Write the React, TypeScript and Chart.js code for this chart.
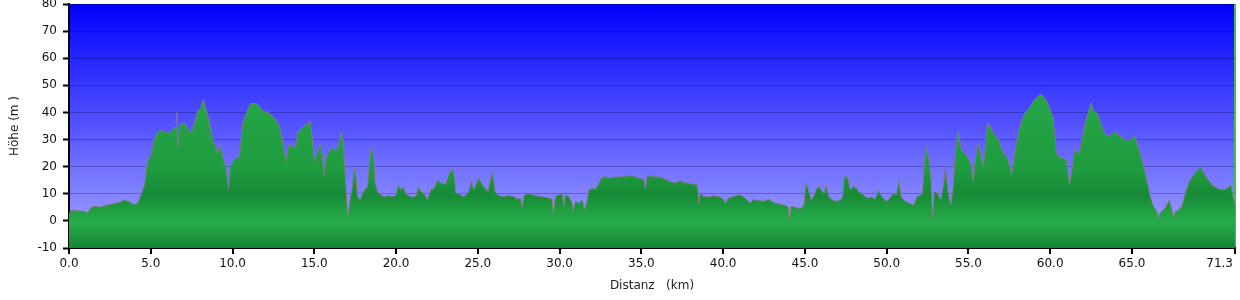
import React, { useEffect, useRef } from 'react';
import { Chart, registerables } from 'chart.js';

Chart.register(...registerables);

// Distance along the route (km)
const distanceKm = [
  0.0, 0.06, 0.22, 0.43, 0.84, 1.14, 1.35, 1.65, 1.86, 2.26, 2.67, 3.08, 3.38, 3.69, 4.0, 4.2, 4.4, 4.6, 4.81,
  5.02, 5.22, 5.42, 5.63, 5.93, 6.24, 6.44, 6.56, 6.6, 6.66, 6.75, 6.85, 7.05, 7.26, 7.46, 7.67, 7.87, 8.07, 8.22,
  8.38, 8.58, 8.79, 9.09, 9.24, 9.4, 9.6, 9.75, 9.85, 10.1, 10.42, 10.62, 10.93, 11.13, 11.44, 11.74, 11.93,
  12.13, 12.34, 12.64, 12.85, 13.05, 13.26, 13.46, 13.66, 13.87, 13.97, 14.17, 14.38, 14.58, 14.74, 14.89, 14.99,
  15.19, 15.36, 15.5, 15.6, 15.7, 15.91, 16.11, 16.31, 16.46, 16.62, 16.76, 16.86, 16.99, 17.03, 17.19, 17.33,
  17.43, 17.54, 17.64, 17.8, 18.0, 18.25, 18.41, 18.49, 18.62, 18.72, 18.86, 19.07, 19.27, 19.47, 19.78, 19.98,
  20.15, 20.29, 20.45, 20.59, 20.9, 21.21, 21.35, 21.51, 21.72, 21.92, 22.12, 22.33, 22.53, 22.74, 23.04, 23.25,
  23.45, 23.55, 23.65, 23.86, 24.04, 24.24, 24.45, 24.59, 24.75, 24.9, 25.06, 25.22, 25.43, 25.63, 25.77, 25.87,
  25.98, 26.04, 26.28, 26.59, 26.89, 27.2, 27.4, 27.61, 27.71, 27.81, 28.02, 28.32, 28.53, 28.73, 29.03, 29.34,
  29.54, 29.61, 29.75, 29.95, 30.16, 30.26, 30.36, 30.56, 30.77, 30.83, 30.97, 31.18, 31.38, 31.54, 31.69, 31.79,
  31.99, 32.2, 32.4, 32.6, 32.91, 33.11, 33.32, 33.62, 33.93, 34.23, 34.54, 34.85, 35.15, 35.25, 35.36, 35.66,
  35.97, 36.15, 36.46, 36.76, 37.07, 37.37, 37.68, 37.98, 38.29, 38.43, 38.51, 38.6, 38.8, 39.11, 39.41, 39.72,
  40.02, 40.13, 40.33, 40.64, 40.94, 41.15, 41.45, 41.65, 41.86, 42.16, 42.47, 42.78, 43.08, 43.39, 43.69, 43.9,
  44.0, 44.06, 44.14, 44.3, 44.51, 44.81, 44.96, 45.06, 45.22, 45.37, 45.53, 45.73, 45.9, 46.04, 46.18, 46.3,
  46.45, 46.65, 46.96, 47.16, 47.32, 47.4, 47.61, 47.77, 47.97, 48.18, 48.26, 48.46, 48.67, 48.87, 49.08, 49.28,
  49.52, 49.69, 49.99, 50.2, 50.4, 50.6, 50.75, 50.87, 51.11, 51.42, 51.68, 51.83, 52.03, 52.19, 52.34, 52.44,
  52.58, 52.7, 52.81, 52.91, 53.11, 53.32, 53.46, 53.6, 53.76, 53.93, 54.07, 54.21, 54.38, 54.58, 54.78, 55.03,
  55.19, 55.29, 55.4, 55.56, 55.7, 55.91, 56.05, 56.17, 56.31, 56.52, 56.82, 57.07, 57.23, 57.43, 57.64, 57.84,
  58.05, 58.25, 58.45, 58.66, 58.86, 59.07, 59.37, 59.58, 59.75, 59.9, 60.05, 60.16, 60.25, 60.37, 60.51, 60.72,
  60.98, 61.12, 61.18, 61.33, 61.43, 61.53, 61.63, 61.8, 61.94, 62.14, 62.35, 62.49, 62.65, 62.86, 63.06, 63.26,
  63.47, 63.77, 63.98, 64.28, 64.59, 64.79, 65.0, 65.2, 65.3, 65.51, 65.71, 65.91, 66.12, 66.32, 66.53, 66.62,
  66.73, 66.93, 67.14, 67.28, 67.44, 67.55, 67.65, 67.85, 68.05, 68.26, 68.46, 68.67, 68.97, 69.18, 69.38, 69.58,
  69.89, 70.2, 70.5, 70.71, 70.91, 71.05, 71.17, 71.3,
];

// Elevation (m)
const elevationM = [
  2.5, 3.5, 4.0, 3.8, 3.6, 3.0, 5.0, 5.5, 5.0, 5.8, 6.3, 6.8, 7.8, 7.0, 6.0, 6.5, 9.6, 12.7, 22,
  24.4, 30, 32.7, 33.5, 32.5, 33, 34.3, 34.5, 40, 27, 35, 36, 36, 34.2, 32.5, 36, 40.5, 41.7, 44.8,
  41, 36.8, 30, 25, 28, 23.8, 19.5, 11.5, 20, 22.6, 23.8, 36, 41, 43.3, 43.3, 41.7, 39.8,
  40.5, 39, 37.4, 35, 30, 22, 28.7, 27.5, 27, 32.5, 33.7, 35, 36, 36.8, 30, 22,
  25, 28.7, 23.8, 17, 23, 25.7, 27, 25.7, 27.5, 32.5, 30, 19.5, 6.5, 1.6, 7.8, 12.7,
  19.5, 16.4, 9, 7.8, 10.9, 12.7, 23.8, 28, 23.8, 14, 10.9, 9.6, 8.8, 9.3, 9, 9.3,
  13.3, 11.5, 12.5, 10, 8.8, 9, 12.5, 10.9, 10, 7.8, 11.5, 12, 15, 14, 13.7, 17.6,
  19, 17, 10.2, 10, 9, 9.3, 10.9, 14.5, 11.5, 13.7, 15.8, 14, 12, 10.9, 15.2, 18.3,
  15, 10.9, 9.3, 9, 9.3, 9, 8, 8.4, 4.7, 9, 10.2, 9.6, 9.3, 9, 8.8, 8.4,
  8, 2.8, 9, 9.6, 10, 5.3, 9.6, 9, 6.5, 3.5, 7.2, 6.5, 7.8, 4, 7.8, 11.5,
  12, 11.7, 14, 16.2, 16.2, 15.8, 16.2, 16.2, 16.4, 16.7, 16.4, 15.8, 15.2, 11.5, 16.7, 16.4,
  16.2, 16.2, 15.4, 14.5, 14, 14.8, 14, 13.7, 13.5, 13.1, 6.5, 10.2, 9, 8.8, 9.3, 9,
  8, 6.5, 8.4, 9, 9.6, 9.3, 7.8, 6.5, 8, 7.5, 7.2, 8, 6.8, 6.3, 5.9, 5.5,
  4.7, -0.8, 5.3, 5.3, 4.7, 4.7, 6.5, 14, 11.5, 7.8, 9, 12, 12.7, 10.9, 10.2, 13.3,
  9, 7.8, 7.2, 7.8, 9, 16.2, 16.2, 11.5, 12.7, 12, 10.9, 10.2, 9, 8.4, 8.8, 8,
  11.2, 9, 7.2, 8.4, 10.2, 9.6, 15.2, 9, 7.2, 6.5, 5.9, 8.8, 9.3, 10.2, 23.8, 27.5,
  22.6, 16.4, 0.4, 10.9, 10.2, 7.8, 12.7, 20, 10.2, 5.9, 12.7, 26.3, 33, 25.7, 25, 22.6,
  20, 14.5, 21.4, 28.7, 25.7, 20, 28.7, 36, 35, 32.5, 30, 25.7, 24.4, 22.6, 17, 25,
  32.5, 36.8, 39.8, 41, 43, 44.8, 46.6, 46, 44.5, 42.5, 40, 38.5, 33.7, 25, 23.8, 23.2,
  22.6, 16.4, 13.3, 18.9, 23.8, 27, 25, 25.7, 30, 36, 40.5, 43.5, 40.5, 39.8, 36.8, 33,
  31.2, 31.8, 33, 31.2, 30, 29.4, 30.6, 31.2, 28.7, 25, 20, 15.2, 9, 5.3, 3.5, 0.8,
  3.1, 4, 5.9, 7.8, 4, 1.2, 3.5, 4, 5.3, 10.2, 14, 16.2, 18.3, 19.9, 17.9, 15.8,
  13.3, 12, 11.5, 11.7, 12.5, 13.3, 9, 5.9,
];

// X axis tick values (km)
const xTickValues = [0, 5, 10, 15, 20, 25, 30, 35, 40, 45, 50, 55, 60, 65, 71.3];

const FONT = '"DejaVu Sans", Verdana, sans-serif';

export default function App() {
  const ref = useRef<HTMLCanvasElement | null>(null);

  useEffect(() => {
    document.body.style.margin = '0';
    const canvas = ref.current;
    if (!canvas) return;
    const points = distanceKm.map((x, i) => ({ x, y: elevationM[i] }));
    const lastTick = xTickValues[xTickValues.length - 1];

    const plotPlugin = {
      id: 'plotDecor',
      beforeDraw(chart: any) {
        const { ctx, chartArea: a } = chart;
        if (!a) return;
        const g = ctx.createLinearGradient(0, a.top, 0, a.bottom);
        g.addColorStop(0, '#0000ff');
        g.addColorStop(1, '#a8a8ff');
        ctx.save();
        ctx.fillStyle = g;
        ctx.fillRect(a.left, a.top, a.right - a.left, a.bottom - a.top);
        ctx.restore();
      },
      afterDraw(chart: any) {
        const xs = chart.scales.x;
        const px = xs.getPixelForValue(lastTick);
        const { ctx } = chart;
        ctx.save();
        ctx.font = `12px ${FONT}`;
        ctx.fillStyle = '#111';
        ctx.textAlign = 'right';
        ctx.textBaseline = 'middle';
        ctx.fillText(lastTick.toFixed(1), px - 2, xs.top + 6 + 3 + 7.2);
        ctx.restore();
      },
    };

    const chart = new Chart(canvas, {
      type: 'line',
      data: {
        datasets: [
          {
            data: points,
            borderColor: 'rgba(125,125,125,0.9)',
            borderWidth: 1,
            pointRadius: 0,
            tension: 0,
            fill: 'start',
            backgroundColor: (c: any) => {
              const a = c.chart.chartArea;
              if (!a) return '#1f9a40';
              const g = c.chart.ctx.createLinearGradient(0, a.top, 0, a.bottom);
              g.addColorStop(0, '#2db050');
              g.addColorStop(106 / 244, '#24a446');
              g.addColorStop(166 / 244, '#1f9b40');
              g.addColorStop(191 / 244, '#178a36');
              g.addColorStop(218 / 244, '#27ad4b');
              g.addColorStop(1, '#158534');
              return g;
            },
          },
        ],
      },
      options: {
        responsive: false,
        animation: false,
        events: [],
        layout: { padding: { top: 4, right: 5, left: 0, bottom: 0 } },
        plugins: {
          legend: { display: false },
          tooltip: { enabled: false },
        },
        scales: {
          x: {
            type: 'linear',
            min: 0,
            max: lastTick,
            z: 1,
            afterBuildTicks: (s: any) => {
              s.ticks = xTickValues.map((v) => ({ value: v }));
            },
            afterFit: (s: any) => {
              s.height = 52;
              s.paddingLeft = 0;
              s.paddingRight = 0;
            },
            ticks: {
              autoSkip: false,
              maxRotation: 0,
              minRotation: 0,
              padding: 3,
              color: '#111',
              font: { family: FONT, size: 12 },
              callback: (v: any) => (Number(v) === lastTick ? '' : Number(v).toFixed(1)),
            },
            grid: {
              display: true,
              drawOnChartArea: true,
              color: (c: any) => (c.tick && c.tick.value === lastTick ? '#3cc060' : 'rgba(0,0,0,0)'),
              lineWidth: 2,
              tickLength: 6,
              tickColor: '#000',
              tickWidth: 2,
            },
            border: { display: true, color: '#000', width: 2 },
            title: {
              display: true,
              text: 'Distanz   (km)',
              color: '#222',
              font: { family: FONT, size: 12 },
              padding: { top: 0, bottom: 7 },
            },
          },
          y: {
            type: 'linear',
            min: -10,
            max: 80,
            z: 1,
            afterFit: (s: any) => {
              s.width = 69;
              s.paddingTop = 0;
              s.paddingBottom = 0;
            },
            ticks: {
              stepSize: 10,
              padding: 6,
              color: '#111',
              font: { family: FONT, size: 12 },
            },
            grid: {
              color: 'rgba(0,0,20,0.25)',
              lineWidth: 1,
              tickLength: 6,
              tickColor: '#000',
              tickWidth: 2,
            },
            border: { display: true, color: '#000', width: 2 },
            title: {
              display: true,
              text: 'Höhe (m )',
              color: '#222',
              font: { family: FONT, size: 12 },
              padding: { top: 8, bottom: 0 },
            },
          },
        },
      },
      plugins: [plotPlugin],
    } as any);

    return () => chart.destroy();
  }, []);

  return <canvas ref={ref} width={1240} height={300} style={{ display: 'block', width: 1240, height: 300 }} />;
}
